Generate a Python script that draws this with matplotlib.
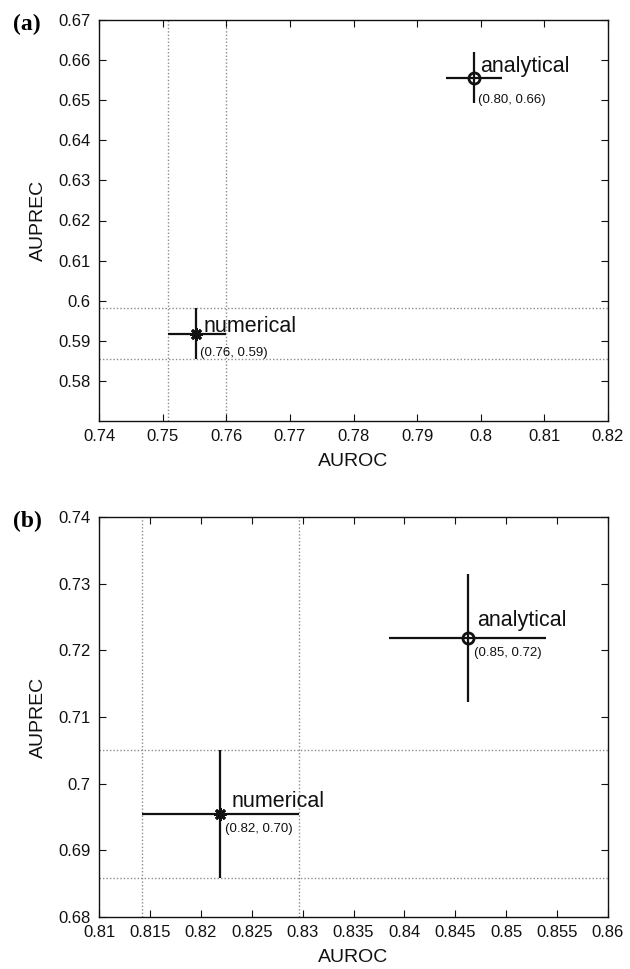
import matplotlib
matplotlib.use("Agg")
import matplotlib.pyplot as plt
from matplotlib.transforms import offset_copy

# ---------------- data ----------------
methods = ["analytical", "numerical"]

# panel (a)
a_auroc = [0.7990, 0.7553]
a_auroc_lo = [0.7946, 0.7508]
a_auroc_hi = [0.8034, 0.7600]
a_auprec = [0.6556, 0.5918]
a_auprec_lo = [0.6492, 0.5854]
a_auprec_hi = [0.6619, 0.5983]
a_point_labels = ["(0.80, 0.66)", "(0.76, 0.59)"]
a_xticks = [0.74, 0.75, 0.76, 0.77, 0.78, 0.79, 0.80, 0.81, 0.82]
a_xticklabels = ["0.74", "0.75", "0.76", "0.77", "0.78", "0.79", "0.8", "0.81", "0.82"]
a_yticks = [0.58, 0.59, 0.60, 0.61, 0.62, 0.63, 0.64, 0.65, 0.66, 0.67]
a_yticklabels = ["0.58", "0.59", "0.6", "0.61", "0.62", "0.63", "0.64", "0.65", "0.66", "0.67"]
a_xlim = (0.74, 0.82)
a_ylim = (0.57, 0.67)

# panel (b)
b_auroc = [0.8462, 0.8219]
b_auroc_lo = [0.8385, 0.8142]
b_auroc_hi = [0.8539, 0.8296]
b_auprec = [0.7218, 0.6955]
b_auprec_lo = [0.7122, 0.6859]
b_auprec_hi = [0.7314, 0.7051]
b_point_labels = ["(0.85, 0.72)", "(0.82, 0.70)"]
b_xticks = [0.81, 0.815, 0.82, 0.825, 0.83, 0.835, 0.84, 0.845, 0.85, 0.855, 0.86]
b_xticklabels = ["0.81", "0.815", "0.82", "0.825", "0.83", "0.835", "0.84", "0.845", "0.85", "0.855", "0.86"]
b_yticks = [0.68, 0.69, 0.70, 0.71, 0.72, 0.73, 0.74]
b_yticklabels = ["0.68", "0.69", "0.7", "0.71", "0.72", "0.73", "0.74"]
b_xlim = (0.81, 0.86)
b_ylim = (0.68, 0.74)

# ---------------- style ----------------
plt.rcParams['font.family'] = ['Liberation Sans', 'DejaVu Sans']
W, H = 630, 969
fig = plt.figure(figsize=(W / 100, H / 100), dpi=100)

ax_a = fig.add_axes([99 / W, 1 - 421 / H, 509 / W, 401 / H])
ax_b = fig.add_axes([99 / W, 1 - 917 / H, 509 / W, 400 / H])

markers = ['o', (8, 2, 0)]
msizes = [8, 9]


def draw(ax, x, xlo, xhi, y, ylo, yhi, plabels, xticks, xtl, yticks, ytl, xlim, ylim,
         name_off, small_off):
    # dotted reference lines at the numerical error bar extents
    for v in (xlo[1], xhi[1]):
        ax.axvline(v, color='#8c8c8c', lw=1.0, ls=(0, (1, 1.5)), zorder=1)
    for v in (ylo[1], yhi[1]):
        ax.axhline(v, color='#8c8c8c', lw=1.0, ls=(0, (1, 1.5)), zorder=1)
    for i in range(len(methods)):
        ax.plot([xlo[i], xhi[i]], [y[i], y[i]], color='#111111', lw=1.6, zorder=3,
                solid_capstyle='butt')
        ax.plot([x[i], x[i]], [ylo[i], yhi[i]], color='#111111', lw=1.6, zorder=3,
                solid_capstyle='butt')
        ax.plot([x[i]], [y[i]], marker=markers[i], ms=msizes[i], mfc='none',
                mec='#111111', mew=2.0, color='#111111', zorder=4)
        t1 = offset_copy(ax.transData, fig=fig, x=name_off[i][0], y=name_off[i][1], units='dots')
        ax.text(x[i], y[i], methods[i], transform=t1, fontsize=15.5, ha='left', va='center',
                color='#111111', zorder=5)
        t2 = offset_copy(ax.transData, fig=fig, x=small_off[i][0], y=small_off[i][1], units='dots')
        ax.text(x[i], y[i], plabels[i], transform=t2, fontsize=9.5, ha='left', va='center',
                color='#111111', zorder=5)
    ax.set_xlim(*xlim)
    ax.set_ylim(*ylim)
    ax.set_xticks(xticks)
    ax.set_xticklabels(xtl)
    ax.set_yticks(yticks)
    ax.set_yticklabels(ytl)
    ax.tick_params(direction='in', top=True, right=True, length=5, width=0.8,
                   labelsize=12, pad=6, colors='#111111')
    for s in ax.spines.values():
        s.set_linewidth(1.0)
        s.set_color('#111111')
    ax.set_xlabel('AUROC', fontsize=14, labelpad=6, color='#111111')
    ax.set_ylabel('AUPREC', fontsize=14, labelpad=8, color='#111111')


draw(ax_a, a_auroc, a_auroc_lo, a_auroc_hi, a_auprec, a_auprec_lo, a_auprec_hi,
     a_point_labels, a_xticks, a_xticklabels, a_yticks, a_yticklabels, a_xlim, a_ylim,
     name_off=[(6, 11), (7, 7)], small_off=[(4, -22), (4, -19)])
draw(ax_b, b_auroc, b_auroc_lo, b_auroc_hi, b_auprec, b_auprec_lo, b_auprec_hi,
     b_point_labels, b_xticks, b_xticklabels, b_yticks, b_yticklabels, b_xlim, b_ylim,
     name_off=[(10, 18), (11, 12)], small_off=[(6, -15), (5, -15)])

fig.text(27 / W, 1 - 24 / H, '(a)', fontsize=17, fontweight='bold',
         family=['Liberation Serif', 'DejaVu Serif'], ha='center', va='center')
fig.text(27 / W, 1 - 521 / H, '(b)', fontsize=17, fontweight='bold',
         family=['Liberation Serif', 'DejaVu Serif'], ha='center', va='center')

fig.savefig('out.png', dpi=100, facecolor='white')
